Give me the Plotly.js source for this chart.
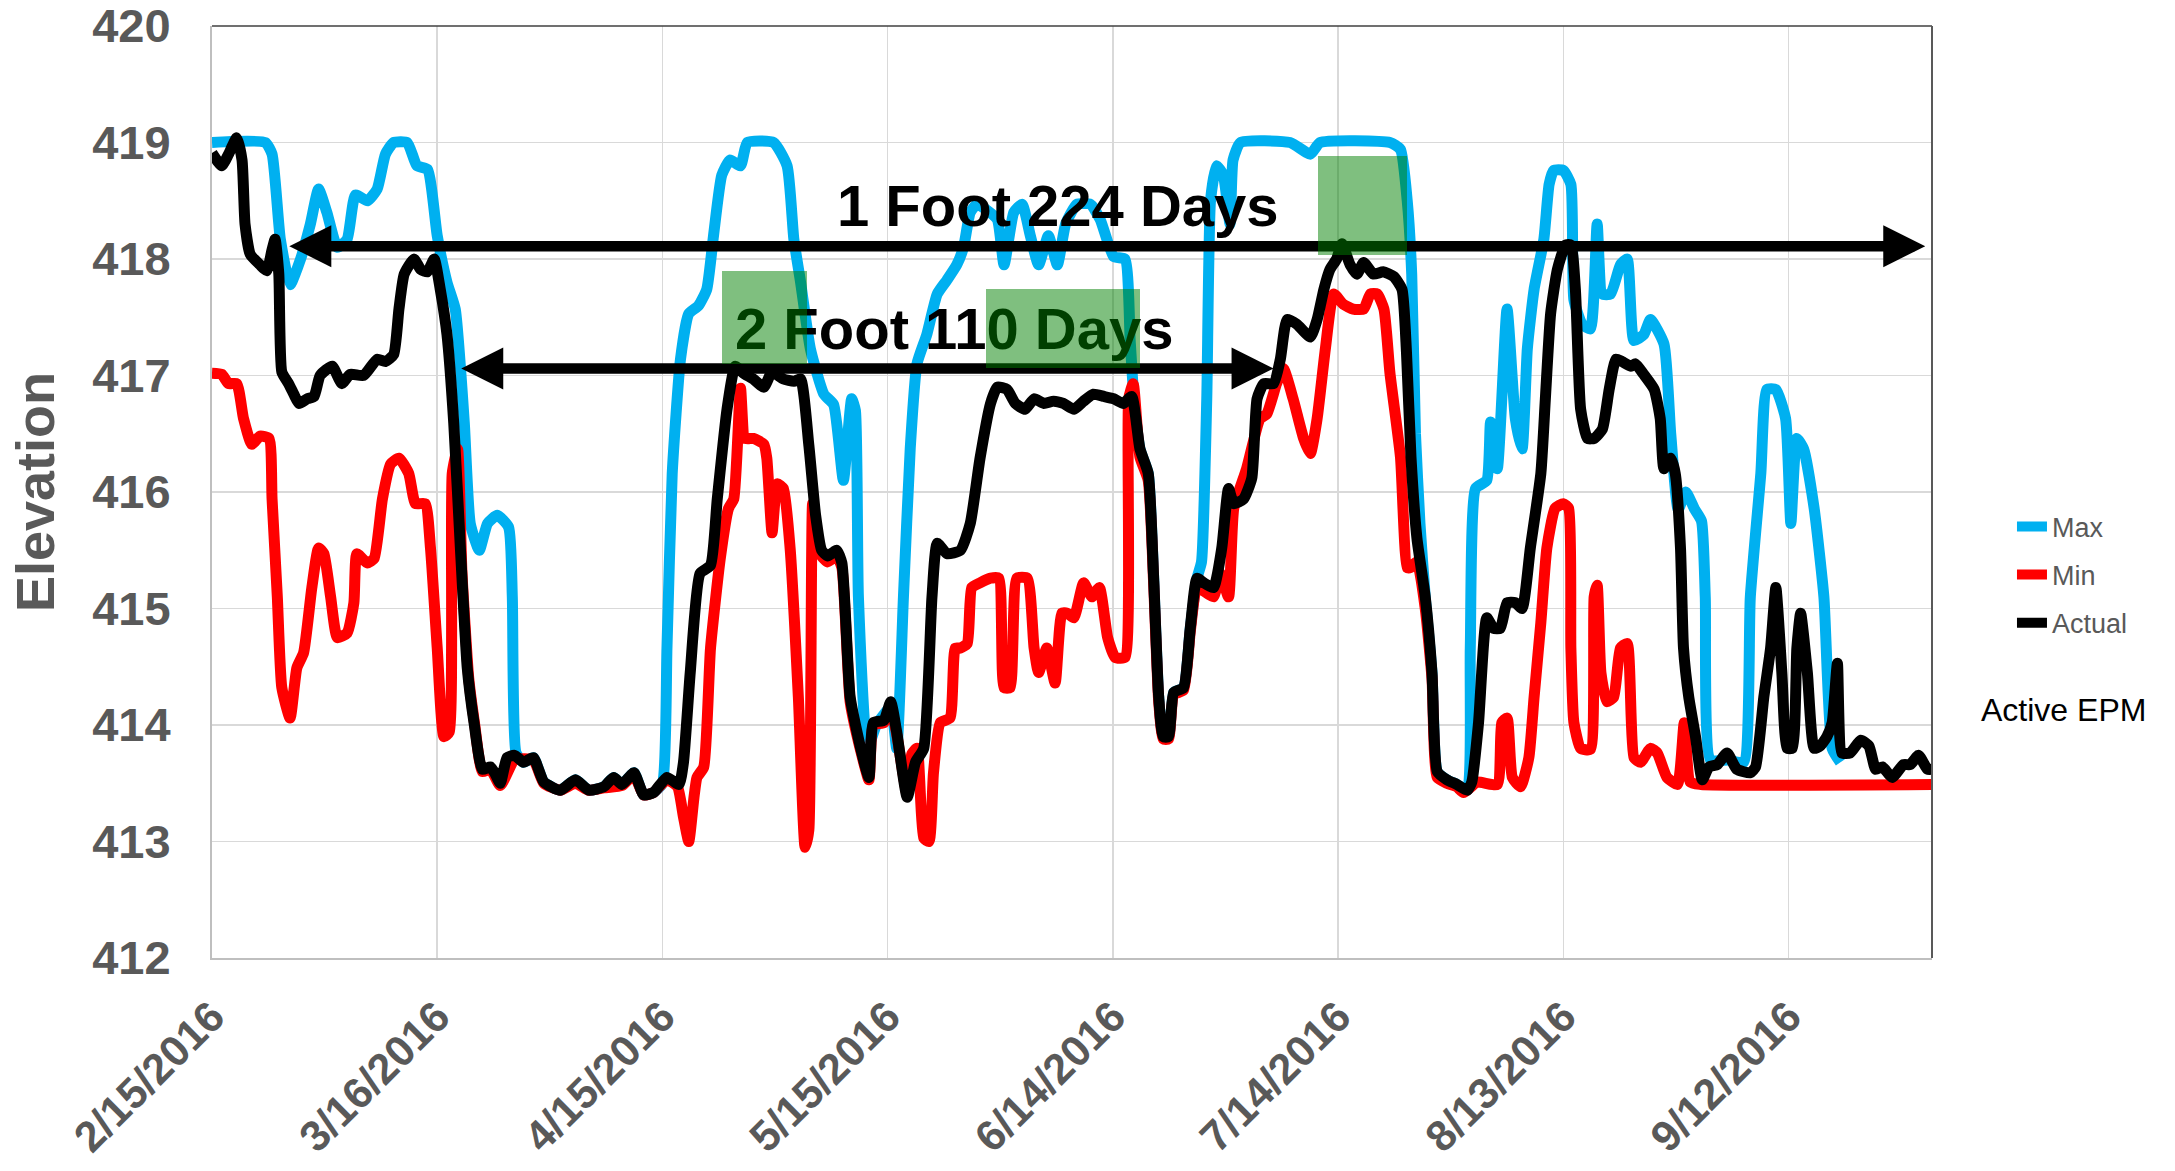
<!DOCTYPE html>
<html><head><meta charset="utf-8">
<script src="https://cdn.plot.ly/plotly-3.0.1.min.js"></script>
<style>html,body{margin:0;padding:0;background:#fff;} #chart{width:2175px;height:1171px;}</style>
</head><body><div id="chart"></div>
<script>
// ---- DATA (day offset from 2/15/2016, elevation) ----
const startDate = '2016-02-15';
const tickDays = [0, 30, 60, 90, 120, 150, 180, 210];
const tickLabels = ['2/15/2016','3/16/2016','4/15/2016','5/15/2016','6/14/2016','7/14/2016','8/13/2016','9/12/2016'];
const seriesNames = ['Max', 'Min', 'Actual'];

const maxSeries = [[0,419.0],[7.1,419.0],[8.0,418.9],[9.1,418.17],[10.4,417.78],[11.8,418.0],[13.1,418.3],[14.2,418.6],[15.3,418.4],[16.7,418.1],[18.0,418.17],[19.1,418.55],[20.7,418.5],[22.0,418.6],[23.1,418.9],[24.2,419.0],[26.0,419.0],[27.3,418.8],[28.7,418.77],[30.0,418.2],[31.3,417.8],[32.4,417.57],[33.6,416.6],[34.4,415.73],[35.6,415.5],[36.7,415.73],[38.0,415.8],[39.5,415.7],[40.0,415.1],[40.5,413.76],[41.5,413.68],[42.8,413.72],[44.2,413.51],[46.4,413.44],[48.4,413.53],[50.2,413.44],[52.2,413.47],[53.5,413.55],[54.6,413.49],[56.2,413.59],[57.5,413.4],[58.8,413.42],[60.0,413.5],[60.6,414.66],[61.3,416.16],[62.4,417.14],[63.5,417.53],[64.8,417.6],[65.9,417.74],[66.8,418.2],[67.9,418.72],[69.0,418.85],[70.4,418.8],[71.3,419.0],[74.8,419.0],[76.6,418.8],[77.5,418.17],[78.4,417.8],[79.7,417.23],[81.5,416.84],[82.8,416.75],[84.1,416.1],[85.2,416.8],[85.7,416.7],[86.1,415.1],[87.3,413.8],[88.5,414.0],[90.4,414.15],[91.2,413.8],[92.1,415.1],[93.0,416.37],[93.9,417.1],[95.2,417.35],[96.6,417.7],[97.9,417.82],[99.2,417.95],[100.1,418.1],[101.0,418.4],[101.9,418.47],[103.2,418.42],[104.6,418.34],[105.5,417.95],[106.8,418.4],[107.9,418.47],[109.0,418.2],[110.1,417.95],[111.4,418.2],[112.6,417.95],[113.7,418.3],[115.2,418.47],[117.0,418.47],[118.3,418.34],[120.1,418.02],[121.6,418.0],[122.3,417.3],[122.8,416.8],[123.6,416.37],[124.7,416.16],[125.4,415.3],[126.1,414.24],[126.7,413.9],[127.4,413.9],[128.1,414.28],[129.4,414.32],[130.3,414.83],[131.2,415.26],[131.8,415.4],[132.5,416.8],[133.0,418.5],[133.8,418.8],[134.7,418.72],[135.6,418.3],[136.0,418.85],[137.0,419.0],[143.6,419.0],[146.3,418.9],[147.6,419.0],[156.9,419.0],[158.3,418.94],[159.2,418.5],[159.8,417.87],[160.3,416.5],[160.9,415.73],[161.6,415.1],[162.5,414.45],[163.2,413.6],[164.5,413.53],[165.8,413.49],[167.2,413.44],[167.6,414.66],[168.3,416.03],[169.8,416.1],[170.3,416.6],[171.2,416.2],[172.5,417.57],[173.6,416.63],[174.5,416.37],[175.2,417.23],[176.1,417.74],[177.4,418.17],[178.1,418.64],[178.7,418.76],[180.0,418.76],[181.0,418.64],[181.4,417.65],[182.5,417.44],[183.6,417.4],[184.5,418.3],[185.2,417.7],[186.3,417.7],[187.6,417.95],[188.5,418.0],[189.4,417.3],[190.7,417.35],[191.6,417.48],[193.4,417.27],[194.3,416.5],[195.3,415.85],[196.3,416.0],[197.5,415.85],[198.4,415.75],[198.9,415.1],[199.6,413.7],[202.0,413.7],[204.0,413.68],[204.9,415.1],[206.3,416.16],[207.1,416.88],[208.3,416.88],[209.6,416.63],[210.3,415.73],[211.1,416.46],[212.0,416.37],[213.4,415.86],[214.7,415.1],[215.8,413.8],[216.9,413.68]];

const minSeries = [[0,417.02],[1.3,417.01],[2.2,416.93],[3.3,416.93],[4.2,416.63],[5.3,416.41],[6.4,416.48],[7.6,416.46],[8.0,415.94],[8.7,415.1],[9.3,414.32],[10.4,414.06],[11.3,414.49],[12.2,414.62],[13.3,415.18],[14.2,415.52],[14.9,415.47],[15.8,415.1],[16.7,414.75],[18.0,414.79],[18.9,415.05],[19.3,415.47],[20.7,415.39],[21.6,415.43],[22.7,415.94],[23.8,416.24],[24.9,416.29],[26.2,416.16],[27.1,415.9],[28.4,415.9],[29.1,415.52],[30.0,414.66],[30.9,413.9],[31.6,413.94],[32.0,416.16],[32.7,416.37],[33.3,415.3],[34.2,414.4],[35.0,414.0],[36.0,413.6],[37.1,413.62],[38.4,413.48],[40.3,413.7],[42.8,413.7],[44.2,413.5],[46.4,413.44],[48.4,413.5],[50.2,413.44],[52.2,413.46],[54.6,413.48],[56.2,413.57],[57.5,413.4],[58.8,413.42],[60.6,413.53],[62.0,413.47],[62.8,413.21],[63.5,413.0],[64.2,413.38],[64.6,413.55],[65.5,413.64],[66.4,414.66],[67.7,415.43],[68.8,415.86],[69.5,415.94],[70.4,416.89],[71.0,416.46],[72.1,416.46],[73.5,416.41],[73.9,416.29],[74.6,415.65],[75.3,416.07],[76.1,416.03],[77.0,415.52],[78.1,414.24],[79.0,412.95],[79.5,413.1],[80.0,415.9],[80.5,415.6],[81.2,415.45],[82.0,415.4],[83.2,415.45],[83.9,415.35],[85.0,414.2],[86.4,413.78],[87.5,413.53],[88.1,414.0],[89.5,414.02],[90.4,414.15],[91.2,413.92],[92.6,413.4],[93.2,413.75],[93.9,413.8],[94.8,413.03],[95.5,413.0],[96.1,413.59],[97.0,414.02],[98.3,414.06],[99.0,414.66],[99.7,414.66],[100.6,414.7],[101.2,415.18],[102.3,415.22],[103.7,415.26],[104.8,415.26],[105.5,414.32],[106.3,414.32],[107.2,415.26],[108.6,415.26],[109.5,414.66],[110.1,414.45],[111.2,414.66],[112.3,414.36],[113.2,414.96],[113.9,414.96],[114.8,414.92],[116.1,415.22],[117.2,415.1],[118.2,415.18],[119.3,414.75],[120.3,414.58],[121.6,414.58],[122.1,416.8],[122.7,416.93],[123.6,416.3],[124.7,416.1],[125.4,415.25],[126.1,414.2],[126.7,413.88],[127.4,413.88],[128.1,414.26],[129.4,414.3],[130.3,414.8],[131.2,415.2],[132.1,415.15],[133.4,415.1],[134.3,415.3],[135.4,415.1],[136.1,415.86],[137.8,416.2],[139.6,416.63],[140.5,416.67],[141.8,416.93],[142.7,417.06],[144.0,416.8],[145.4,416.46],[146.3,416.33],[147.2,416.63],[148.3,417.23],[149.4,417.7],[150.7,417.61],[152.0,417.57],[153.4,417.57],[154.3,417.7],[155.2,417.7],[156.1,417.57],[156.9,417.02],[158.3,416.3],[159.2,415.35],[159.6,415.35],[160.5,415.4],[161.6,415.0],[162.5,414.4],[163.2,413.55],[164.5,413.5],[165.8,413.47],[166.7,413.42],[168.5,413.51],[171.2,413.49],[171.8,414.02],[172.5,414.06],[173.2,413.55],[174.3,413.47],[175.4,413.72],[176.1,414.24],[177.0,414.88],[177.8,415.52],[178.9,415.86],[180.0,415.9],[180.7,415.86],[181.0,414.66],[181.4,414.02],[182.3,413.8],[183.6,413.79],[184.1,415.1],[184.5,415.2],[185.0,414.45],[185.8,414.2],[186.7,414.24],[187.6,414.66],[188.5,414.7],[189.4,413.72],[190.3,413.68],[191.6,413.8],[192.5,413.76],[193.8,413.55],[195.2,413.49],[196.1,414.02],[196.9,413.51],[198.3,413.49],[229.1,413.49]];

const actualSeries = [[0,418.91],[1.3,418.8],[2.2,418.9],[3.3,419.04],[4.0,418.85],[4.4,418.3],[5.1,418.04],[6.4,417.95],[7.3,417.9],[8.0,418.08],[8.4,418.17],[8.9,417.87],[9.3,417.03],[10.2,416.93],[10.9,416.84],[11.6,416.76],[12.7,416.8],[13.6,416.82],[14.4,417.0],[16.0,417.08],[17.3,416.93],[18.4,417.01],[20.2,417.0],[22.0,417.14],[23.1,417.12],[24.2,417.18],[24.9,417.57],[25.6,417.87],[26.9,418.0],[27.8,417.91],[28.7,417.89],[29.6,418.0],[30.4,417.74],[31.3,417.35],[32.2,416.59],[33.1,415.5],[34.0,414.49],[34.9,414.02],[36.0,413.62],[37.1,413.64],[37.8,413.57],[38.4,413.5],[39.3,413.72],[40.3,413.74],[41.5,413.68],[42.8,413.72],[44.2,413.51],[46.4,413.44],[48.4,413.53],[50.2,413.44],[52.2,413.47],[53.5,413.55],[54.6,413.49],[56.2,413.59],[57.5,413.4],[58.8,413.42],[60.6,413.55],[62.2,413.49],[62.8,413.68],[63.7,414.45],[65.0,415.3],[66.4,415.37],[67.3,415.94],[68.6,416.71],[69.7,417.08],[70.8,417.02],[72.1,416.97],[73.5,416.9],[74.6,417.03],[76.1,416.97],[77.5,416.95],[78.4,416.97],[79.5,416.4],[80.4,415.8],[81.2,415.5],[82.0,415.45],[83.2,415.5],[83.9,415.39],[85.0,414.24],[86.4,413.8],[87.5,413.55],[88.1,414.02],[89.5,414.04],[90.4,414.2],[91.2,413.94],[92.6,413.38],[93.7,413.68],[94.8,413.8],[95.9,415.1],[96.6,415.56],[97.9,415.47],[99.7,415.5],[101.0,415.73],[102.3,416.29],[103.7,416.76],[104.6,416.9],[105.9,416.88],[107.0,416.76],[108.3,416.71],[109.5,416.8],[110.8,416.76],[112.1,416.78],[113.4,416.76],[114.8,416.71],[116.1,416.78],[117.4,416.84],[118.8,416.82],[120.1,416.8],[121.4,416.76],[122.5,416.82],[123.6,416.37],[124.7,416.16],[125.4,415.3],[126.1,414.24],[126.7,413.9],[127.4,413.9],[128.1,414.28],[129.4,414.32],[130.3,414.83],[131.2,415.26],[132.1,415.22],[133.4,415.18],[134.5,415.52],[135.4,416.03],[136.1,415.9],[137.4,415.94],[138.5,416.12],[139.2,416.8],[140.1,416.93],[141.4,416.93],[142.3,417.14],[143.2,417.48],[144.5,417.44],[146.3,417.33],[147.2,417.48],[148.1,417.74],[148.9,417.91],[149.8,418.0],[150.5,418.13],[151.6,417.95],[152.5,417.87],[153.4,417.97],[154.7,417.87],[156.0,417.89],[157.4,417.85],[158.5,417.74],[159.1,417.2],[159.7,416.3],[160.5,415.6],[161.6,415.1],[162.5,414.45],[163.2,413.6],[164.5,413.53],[165.8,413.49],[167.2,413.44],[167.8,413.51],[168.7,414.02],[169.8,414.92],[170.7,414.83],[171.6,414.83],[172.5,415.05],[173.6,415.05],[174.5,415.0],[175.6,415.52],[177.0,416.16],[177.6,416.8],[178.3,417.53],[179.2,417.91],[180.3,418.12],[181.0,418.12],[181.6,417.74],[182.3,416.71],[183.2,416.46],[184.1,416.46],[185.2,416.54],[186.1,416.88],[187.0,417.14],[187.8,417.12],[189.0,417.08],[189.6,417.1],[190.7,417.01],[192.1,416.88],[192.9,416.63],[193.4,416.2],[194.3,416.29],[194.9,416.16],[195.6,415.52],[196.0,414.66],[196.7,414.24],[197.6,413.9],[198.5,413.53],[199.4,413.64],[200.5,413.66],[201.8,413.76],[203.1,413.62],[204.9,413.59],[205.6,413.64],[206.7,414.24],[207.6,414.66],[208.3,415.18],[209.1,414.45],[209.8,413.8],[210.5,413.8],[211.1,414.66],[211.6,414.96],[212.5,414.45],[213.4,413.8],[214.2,413.82],[215.1,413.9],[215.8,414.02],[216.5,414.53],[217.1,413.76],[218.2,413.76],[219.6,413.87],[220.7,413.82],[221.6,413.62],[222.5,413.64],[223.8,413.55],[225.3,413.66],[226.2,413.66],[227.3,413.74],[228.5,413.62],[229.1,413.62]];

const annotationTexts = ['1 Foot 224 Days', '2 Foot 110 Days'];
const sideNote = 'Active EPM';
const yTitle = 'Elevation';

// ---- helpers / styles ----
const START_MS = Date.UTC(2016, 1, 15);
function dayToDate(d) {
  return new Date(START_MS + d * 86400000).toISOString().replace('T', ' ').slice(0, 19);
}
const W = 2175, H = 1171;
const M = {l: 212, r: 243, t: 26, b: 213};
const X_END_DAY = 229.1;
const Y_MIN = 412, Y_MAX = 420;
const pxPerDay = (W - M.l - M.r) / X_END_DAY;
const pxPerUnit = (H - M.t - M.b) / (Y_MAX - Y_MIN);
const FONT = 'Liberation Sans, Arial, sans-serif';
const colors = ['#00B0F0', '#FF0000', '#000000'];

const traces = [maxSeries, minSeries, actualSeries].map((s, i) => ({
  type: 'scatter', mode: 'lines', name: seriesNames[i],
  x: s.map(p => dayToDate(p[0])), y: s.map(p => p[1]),
  line: {color: colors[i], width: 11, shape: 'spline', smoothing: 0.5},
  legendgroup: 'g' + i, hoverinfo: 'x+y'
}));

function arrow(d0, d1, y) {
  return {x: dayToDate(d1), y: y, ax: dayToDate(d0), ay: y, axref: 'x', ayref: 'y', xref: 'x', yref: 'y',
    text: '', showarrow: true, arrowhead: 2, startarrowhead: 2, arrowside: 'end+start',
    arrowsize: 0.8, startarrowsize: 0.8, arrowwidth: 10.5, arrowcolor: '#000000',
    standoff: 0, startstandoff: 0};
}
function label(txt, d, y) {
  return {x: dayToDate(d), y: y, xref: 'x', yref: 'y', text: txt, showarrow: false,
    xanchor: 'center', yanchor: 'middle', font: {family: FONT, size: 58, color: '#000000', weight: 'bold'}};
}
function greenBox(d0, d1, y0, y1) {
  return {x: dayToDate(d0), y: y1, xref: 'x', yref: 'y', text: ' ', showarrow: false,
    xanchor: 'left', yanchor: 'top', width: (d1 - d0) * pxPerDay, height: (y1 - y0) * pxPerUnit,
    bgcolor: 'rgba(0,128,0,0.5)', borderpad: 0, borderwidth: 0, font: {size: 2}};
}

const annotations = [
  arrow(10.1, 228.2, 418.11),
  arrow(33.0, 141.4, 417.06),
  label(annotationTexts[0], 112.7, 418.46),
  label(annotationTexts[1], 98.8, 417.40),
  greenBox(67.9, 79.2, 417.10, 417.90),
  greenBox(103.1, 123.6, 417.06, 417.74),
  greenBox(147.3, 159.1, 418.03, 418.88),
  {xref: 'paper', yref: 'paper', x: 1.0275, y: 0.266, xanchor: 'left', yanchor: 'middle',
   text: sideNote, showarrow: false, font: {family: FONT, size: 32, color: '#000000'}}
];

const layout = {
  width: W, height: H, margin: M,
  paper_bgcolor: '#ffffff', plot_bgcolor: '#ffffff',
  font: {family: FONT},
  showlegend: true,
  legend: {x: 1.0465, xanchor: 'left', y: 0.411, yanchor: 'middle', traceorder: 'grouped',
    tracegroupgap: 10, font: {family: FONT, size: 27, color: '#595959'}, bgcolor: 'rgba(0,0,0,0)', borderwidth: 0},
  xaxis: {
    type: 'date', range: [dayToDate(0), dayToDate(X_END_DAY)],
    tickvals: tickDays.map(dayToDate), ticktext: tickLabels, tickangle: -45,
    tickfont: {family: FONT, size: 43, color: '#595959', weight: 'bold'},
    ticks: '', ticklabelstandoff: 14, ticklabeloverflow: 'allow',
    showgrid: true, gridcolor: '#d9d9d9', gridwidth: 1.5,
    showline: true, linecolor: '#bfbfbf', linewidth: 2, zeroline: false, fixedrange: true
  },
  yaxis: {
    range: [Y_MIN, Y_MAX], dtick: 1, tick0: 412,
    tickfont: {family: FONT, size: 47, color: '#595959', weight: 'bold'},
    ticks: '', ticklabelstandoff: 30, ticklabeloverflow: 'allow',
    title: {text: yTitle, font: {family: FONT, size: 54, color: '#595959', weight: 'bold'}, standoff: 20},
    showgrid: true, gridcolor: '#d9d9d9', gridwidth: 1.5,
    showline: true, linecolor: '#bfbfbf', linewidth: 2, zeroline: false, fixedrange: true
  },
  shapes: [
    {type: 'line', xref: 'paper', yref: 'paper', x0: 0, x1: 1, y0: 1, y1: 1, line: {color: '#404040', width: 1.5}},
    {type: 'line', xref: 'paper', yref: 'paper', x0: 1, x1: 1, y0: 0, y1: 1, line: {color: '#595959', width: 2}}
  ],
  annotations: annotations
};

Plotly.newPlot('chart', traces, layout, {displayModeBar: false, staticPlot: true});
</script>
</body></html>
